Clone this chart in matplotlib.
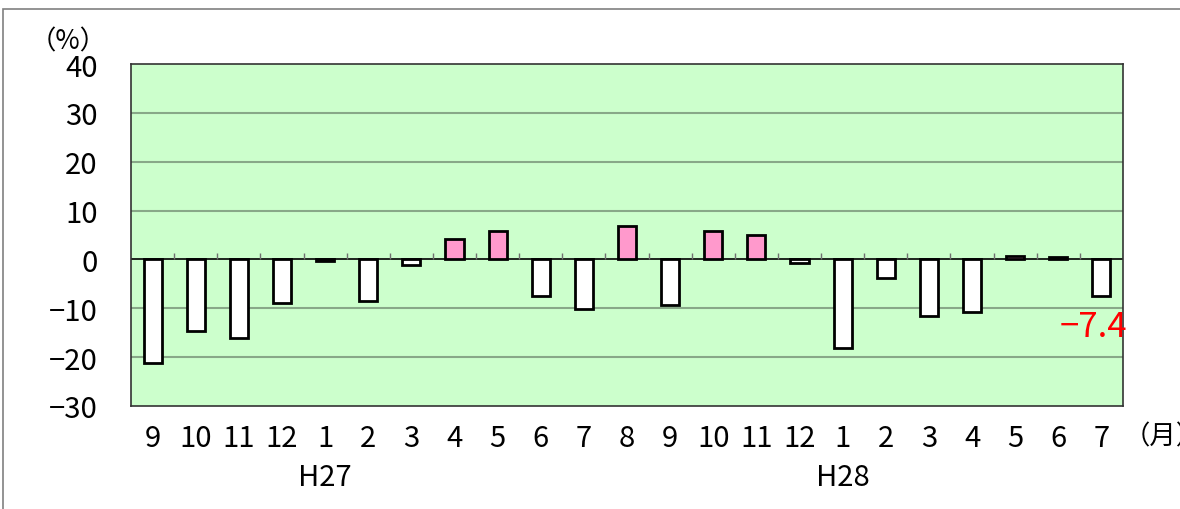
import matplotlib
matplotlib.use("Agg")
from matplotlib import pyplot as plt
from matplotlib.patches import Rectangle
import numpy as np

# 前年同月比 (%)  H27/9 - H28/7
months = ["9", "10", "11", "12", "1", "2", "3", "4", "5", "6", "7", "8",
          "9", "10", "11", "12", "1", "2", "3", "4", "5", "6", "7"]
values = [-21.3, -14.7, -16.0, -8.9, -0.3, -8.5, -1.1, 4.2, 5.8, -7.5, -10.1, 6.8,
          -9.3, 5.8, 5.0, -0.7, -18.1, -3.8, -11.6, -10.7, 0.7, 0.5, -7.4]
year_labels = ["H27", "H28"]
year_pos = [4, 16]
yticks = [40, 30, 20, 10, 0, -10, -20, -30]

plt.rcParams['font.family'] = ['Noto Sans CJK JP', 'DejaVu Sans']
plt.rcParams['font.size'] = 21

fig = plt.figure(figsize=(11.8, 5.1), dpi=100)
# 外枠
fig.patches.append(Rectangle((3 / 1180, -0.1), 1.2, 1 - 10 / 510 + 0.1,
                             transform=fig.transFigure, fill=False,
                             edgecolor="#808080", lw=1.2))

ax = fig.add_axes([131 / 1180, 1 - 407 / 510, 992 / 1180, 342 / 510])
ax.set_facecolor("#ccffcc")

x = np.arange(len(values))
colors = ["#ff99cc" if v > 0 else "white" for v in values]
ax.bar(x, values, width=0.42, color=colors, edgecolor="black", linewidth=2, zorder=3)

ax.set_xlim(-0.5, len(values) - 0.5)
ax.set_ylim(-30, 40)
for y in yticks:
    if y not in (0, 40, -30):
        ax.axhline(y, color="#88a888", lw=1.5, zorder=1)
ax.axhline(0, color="black", lw=1.2, zorder=2)
# 区切り目盛り
ax.vlines(np.arange(0.5, len(values), 1), 0, 1.3, color="#707070", lw=1, zorder=2)

ax.set_yticks(yticks)
ax.set_yticklabels([str(t).replace("-", "\u2212") for t in yticks])
ax.tick_params(axis="y", length=0, pad=24)
ax.set_xticks(x)
ax.set_xticklabels(months)
ax.tick_params(axis="x", length=0, pad=12)
for s in ax.spines.values():
    s.set_color("#333333")
    s.set_linewidth(1.2)

for lab, p in zip(year_labels, year_pos):
    ax.text(p, -44.6, lab, ha="center", va="center", clip_on=False)

ax.text(22.6, -13.8, "\u22127.4", color="red", ha="right", va="center",
        fontsize=25, clip_on=False, zorder=4)

fig.text(1124 / 1180, 1 - 437 / 510, "（月）", ha="left", va="center", fontsize=19)
fig.text(30 / 1180, 1 - 42 / 510, "（%）", ha="left", va="center", fontsize=19)

fig.savefig("out.png", dpi=100)
